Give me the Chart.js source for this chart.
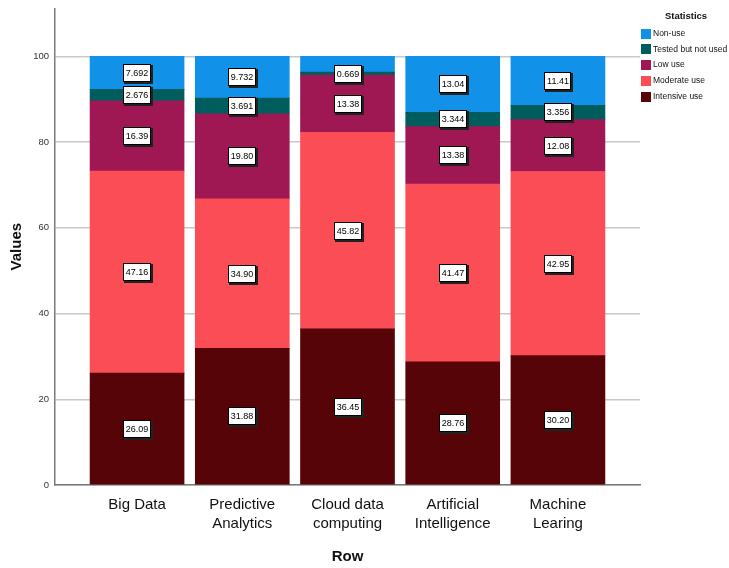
<!DOCTYPE html>
<html>
<head>
<meta charset="utf-8">
<title>Statistics by Row</title>
<script src="https://cdn.jsdelivr.net/npm/chart.js@4.4.1/dist/chart.umd.min.js"></script>
<style>
  html, body { margin: 0; padding: 0; background: #fff; }
  #wrap { width: 729px; height: 568px; }
</style>
</head>
<body>
<div id="wrap"><canvas id="usageChart" width="729" height="568"></canvas></div>
<script>
/* stacked usage shares per technology */
const categories = ['Big Data', 'Predictive Analytics', 'Cloud data computing', 'Artificial Intelligence', 'Machine Learing'];
const tickLabels = [['Big Data'], ['Predictive', 'Analytics'], ['Cloud data', 'computing'], ['Artificial', 'Intelligence'], ['Machine', 'Learing']];
const yTicks = [0, 20, 40, 60, 80, 100];

const intensiveUse = [26.09, 31.88, 36.45, 28.76, 30.20];
const moderateUse = [47.16, 34.90, 45.82, 41.47, 42.95];
const lowUse = [16.39, 19.80, 13.38, 13.38, 12.08];
const testedNotUsed = [2.676, 3.691, 0.669, 3.344, 3.356];
const nonUse = [7.692, 9.732, 3.681, 13.04, 11.41];

// value boxes that are left out where they would collide
const hiddenLabels = [{ series: 'Non-use', category: 'Cloud data computing' }];

const seriesNames = ['Intensive use', 'Moderate use', 'Low use', 'Tested but not used', 'Non-use'];
const seriesColors = ['#570408', '#fa4d56', '#9f1853', '#005d5d', '#1192e8'];
const seriesValues = [intensiveUse, moderateUse, lowUse, testedNotUsed, nonUse];

const FONT = "'Liberation Sans', Arial, sans-serif";

const datasets = seriesNames.map((name, s) => ({
  label: name,
  data: seriesValues[s].map((v, i) => ({ x: i, y: v })),
  backgroundColor: seriesColors[s],
  borderWidth: 0,
  barThickness: 94,
  stack: 'all'
}));

function fmt(v) {
  return v >= 10 ? v.toFixed(2) : v.toFixed(3);
}

const valueBoxes = {
  id: 'valueBoxes',
  afterDatasetsDraw(chart) {
    const ctx = chart.ctx;
    ctx.save();
    ctx.font = '9px ' + FONT;
    ctx.textAlign = 'center';
    ctx.textBaseline = 'middle';
    chart.data.datasets.forEach((ds, s) => {
      const meta = chart.getDatasetMeta(s);
      meta.data.forEach((bar, i) => {
        const skip = hiddenLabels.some(h => h.series === ds.label && h.category === categories[i]);
        if (skip) return;
        const txt = fmt(seriesValues[s][i]);
        const cx = Math.round(bar.x);
        const cy = Math.round((bar.y + bar.base) / 2);
        const w = Math.round(ctx.measureText(txt).width) + 5;
        const h = 18;
        const x0 = cx - Math.round(w / 2), y0 = cy - h / 2;
        ctx.fillStyle = '#222';
        ctx.fillRect(x0 + 1, y0 + 1, w + 1, h + 1);
        ctx.fillStyle = '#fff';
        ctx.fillRect(x0, y0, w, h);
        ctx.strokeStyle = '#000';
        ctx.lineWidth = 1;
        ctx.strokeRect(x0 + 0.5, y0 + 0.5, w - 1, h - 1);
        ctx.fillStyle = '#000';
        ctx.fillText(txt, cx, cy + 0.5);
      });
    });
    ctx.restore();
  }
};

// legend box in the top right corner, Non-use first
const statLegend = {
  id: 'statLegend',
  afterDraw(chart) {
    const ctx = chart.ctx;
    ctx.save();
    ctx.fillStyle = '#111';
    ctx.font = 'bold 9.5px ' + FONT;
    ctx.textAlign = 'center';
    ctx.textBaseline = 'middle';
    ctx.fillText('Statistics', 686, 16);
    ctx.font = '8.5px ' + FONT;
    ctx.textAlign = 'left';
    for (let k = 0; k < seriesNames.length; k++) {
      const s = seriesNames.length - 1 - k;
      const y = 33.5 + k * 15.8;
      ctx.fillStyle = seriesColors[s];
      ctx.fillRect(641, Math.round(y - 5), 10, 10);
      ctx.fillStyle = '#111';
      ctx.fillText(seriesNames[s], 653, y);
    }
    ctx.restore();
  }
};

new Chart(document.getElementById('usageChart'), {
  type: 'bar',
  data: { datasets },
  plugins: [valueBoxes, statLegend],
  options: {
    responsive: false,
    devicePixelRatio: 1,
    animation: false,
    layout: { padding: { top: 8, right: 89, left: 0, bottom: 0 } },
    plugins: {
      legend: { display: false },
      tooltip: { enabled: false }
    },
    scales: {
      x: {
        type: 'linear',
        stacked: true,
        offset: false,
        min: -0.78,
        max: 4.78,
        afterFit: scale => { scale.height = 83; },
        afterBuildTicks: scale => { scale.ticks = categories.map((c, i) => ({ value: i })); },
        grid: { display: false, drawTicks: false },
        border: { display: true, color: '#7a7a7a', width: 1.5 },
        ticks: {
          autoSkip: false,
          maxRotation: 0,
          padding: 10,
          color: '#111',
          font: { family: FONT, size: 15, lineHeight: 1.27 },
          callback: v => tickLabels[v] || ''
        },
        title: {
          display: true,
          text: 'Row',
          color: '#111',
          font: { family: FONT, size: 15, weight: 'bold' },
          padding: { top: 0, bottom: 2 }
        }
      },
      y: {
        stacked: true,
        min: 0,
        max: 111.2,
        afterFit: scale => { scale.width = 55; },
        afterBuildTicks: scale => { scale.ticks = yTicks.map(v => ({ value: v })); },
        grid: { color: '#c8c8c8', lineWidth: 1.5, drawTicks: false },
        border: { display: true, color: '#7a7a7a', width: 1.5 },
        ticks: {
          padding: 6,
          color: '#333',
          font: { family: FONT, size: 9.5, lineHeight: 0.5 }
        },
        title: {
          display: true,
          text: 'Values',
          color: '#111',
          font: { family: FONT, size: 15, weight: 'bold' },
          padding: { top: 8, bottom: 0 }
        }
      }
    }
  }
});
</script>
</body>
</html>
